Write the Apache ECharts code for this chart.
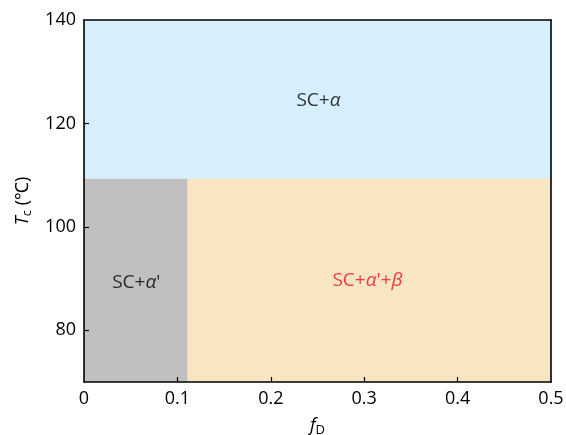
<!DOCTYPE html>
<html>
<head>
<meta charset="utf-8">
<script src="https://cdn.jsdelivr.net/npm/echarts@6/dist/echarts.min.js"></script>
<style>html,body{margin:0;padding:0;background:#fff}#c{width:566px;height:435px}</style>
</head>
<body>
<div id="c"></div>
<script>
// Phase regions (data coordinates)
const regionNames = ['SC+α', "SC+α'", "SC+α'+β"];
const regionX0 = [0, 0, 0.111];
const regionX1 = [0.5, 0.111, 0.5];
const regionY0 = [109.3, 70, 70];
const regionY1 = [140, 109.3, 109.3];
// Label anchor points (data coordinates)
const labelX = [0.251, 0.056, 0.3035];
const labelY = [124.5, 89.3, 89.6];
// Ticks
const xTicks = [0, 0.1, 0.2, 0.3, 0.4, 0.5];
const yTickLabels = [80, 100, 120, 140];
const yTickMarks = [80, 100, 120];

const fills = ['#d7eefd', '#c0c0c0', '#f8e5c2'];
const FONT = 'Open Sans';
const TS = 18;   // tick label size
const LS = 19;   // region label size

const rectData = regionNames.map((n, i) => [regionX0[i], regionX1[i], regionY0[i], regionY1[i]]);
const labelData = regionNames.map((n, i) => ({ value: [labelX[i], labelY[i]], name: n }));
const richLabels = [
  '{n|SC+}{i|α}',
  "{n|SC+}{i|α}{n|'}",
  "{r|SC+}{ri|α}{r|'+}{ri|β}"
];

const chart = echarts.init(document.getElementById('c'), null, { renderer: 'canvas' });
const axisLineStyle = { color: '#000', width: 1.6 };
chart.setOption({
  animation: false,
  textStyle: { fontFamily: FONT },
  grid: { left: 84, right: 15, top: 20, bottom: 53, containLabel: false, outerBoundsMode: 'none' },
  xAxis: [{
    type: 'value', min: 0, max: 0.5, z: 10,
    axisLine: { show: true, onZero: false, lineStyle: axisLineStyle },
    axisTick: { show: true, inside: true, length: 5, customValues: xTicks.slice(1, -1), lineStyle: { color: '#000', width: 1.2 } },
    axisLabel: { customValues: xTicks, color: '#000', fontSize: TS, fontFamily: FONT, margin: 8,
      formatter: v => String(v) },
    splitLine: { show: false },
    name: '{i|f}{s|D}', nameLocation: 'middle', nameGap: 32,
    nameTextStyle: { rich: { i: { fontStyle: 'italic', fontSize: TS, fontFamily: FONT, color: '#000' },
                             s: { fontSize: 13, fontFamily: FONT, color: '#000', padding: [10, 0, 0, 0] } } }
  }, {
    type: 'value', min: 0, max: 0.5, position: 'top', z: 10,
    axisLine: { show: true, onZero: false, lineStyle: axisLineStyle },
    axisTick: { show: false }, axisLabel: { show: false }, splitLine: { show: false }
  }],
  yAxis: [{
    type: 'value', min: 70, max: 140, z: 10,
    axisLine: { show: true, onZero: false, lineStyle: axisLineStyle },
    axisTick: { show: true, inside: true, length: 5, customValues: yTickMarks, lineStyle: { color: '#000', width: 1.2 } },
    axisLabel: { customValues: yTickLabels, color: '#000', fontSize: TS, fontFamily: FONT, margin: 8 },
    splitLine: { show: false },
    name: '{i|T}{s|c}{n|\u00a0(℃)}', nameLocation: 'middle', nameGap: 50, nameRotate: 90,
    nameTextStyle: { rich: {
      i: { fontStyle: 'italic', fontSize: TS, fontFamily: FONT, color: '#000' },
      s: { fontSize: 13, fontFamily: FONT, color: '#000', padding: [10, 0, 0, 0] },
      n: { fontSize: TS, fontFamily: FONT, color: '#000' } } }
  }, {
    type: 'value', min: 70, max: 140, position: 'right', z: 10,
    axisLine: { show: true, onZero: false, lineStyle: axisLineStyle },
    axisTick: { show: false }, axisLabel: { show: false }, splitLine: { show: false }
  }],
  series: [{
    type: 'custom',
    data: rectData,
    z: 2,
    renderItem: (params, api) => {
      const p0 = api.coord([api.value(0), api.value(2)]);
      const p1 = api.coord([api.value(1), api.value(3)]);
      return {
        type: 'rect',
        shape: { x: p0[0], y: p1[1], width: p1[0] - p0[0], height: p0[1] - p1[1] },
        style: { fill: fills[params.dataIndex], stroke: null }
      };
    }
  }, {
    type: 'scatter',
    data: labelData,
    symbolSize: 0,
    z: 5,
    label: {
      show: true, position: 'inside',
      formatter: p => richLabels[p.dataIndex],
      rich: {
        n: { fontSize: LS, fontFamily: FONT, color: '#000' },
        i: { fontSize: LS, fontFamily: FONT, color: '#000', fontStyle: 'italic' },
        r: { fontSize: LS, fontFamily: FONT, color: '#e8101e' },
        ri: { fontSize: LS, fontFamily: FONT, color: '#e8101e', fontStyle: 'italic' }
      }
    }
  }]
});
</script>
</body>
</html>
